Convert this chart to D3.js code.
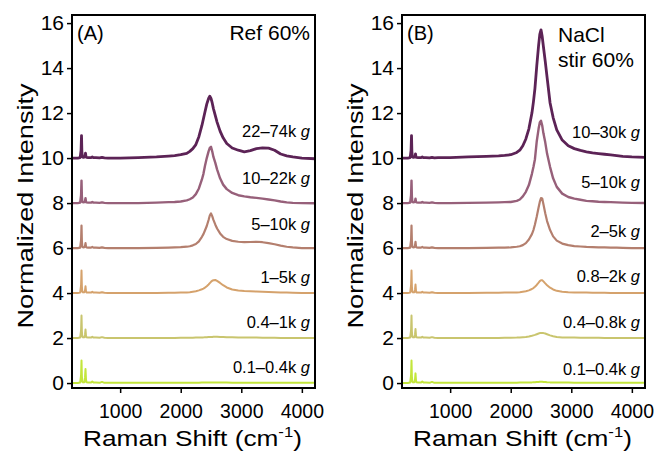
<!DOCTYPE html>
<html><head><meta charset="utf-8">
<script src="https://cdn.jsdelivr.net/npm/d3@7"></script>
<style>
html,body{margin:0;padding:0;background:#fff;}
svg{display:block;font-family:"Liberation Sans",Arial,Helvetica,sans-serif;}
</style></head>
<body><svg id="chart" width="656" height="453"></svg>
<script>
// ---------------- DATA ----------------
const wavenumber = [200,300,340,355,362,368,375,390,410,420,428,436,445,470,520,540,560,600,660,700,740,800,
  1000,1300,1600,1800,1900,2000,2100,2150,2200,2250,2300,2350,2375,2400,2430,2460,2480,2500,2520,2540,
  2570,2600,2650,2700,2760,2850,2950,3050,3150,3250,3350,3450,3550,3650,3750,3850,4000,4220];

// Panel A (Ref 60%) spectra, bottom to top
const refLabels = ["0.1\u20130.4k","0.4\u20131k","1\u20135k","5\u201310k","10\u201322k","22\u201374k"];
const ref_01_04 = [0,0,0.02,0.35,1.0,0.3,0.06,0.03,0.04,0.25,0.62,0.16,0.03,0.02,0.02,0.07,0.02,0.02,0.01,0.05,0.01,0.01,
  0.01,0.01,0.01,0.01,0.01,0.01,0.01,0.01,0.01,0.01, 0.01,0.02,0.02,0.02,0.02,0.02,0.02,0.02,0.02,0.02,
  0.02,0.02,0.02,0.02,0.02,0.01,0.01,0.01,0.01,0.01, 0.01,0.01,0.01,0.01,0.01,0.01,0.01,0.01];
const ref_04_1 = [2,2,2.02,2.35,3.0,2.3,2.06,2.03,2.04,2.15,2.38,2.1,2.03,2.02,2.02,2.06,2.02,2.02,2.01,2.04,2.01,2.0,
  2.0,2.0,2.0,2.0,2.0,2.01,2.01,2.01,2.01,2.02, 2.02,2.03,2.03,2.04,2.04,2.05,2.05,2.05,2.05,2.06,
  2.06,2.06,2.05,2.05,2.04,2.04,2.03,2.03,2.02,2.02, 2.01,2.01,2.01,2.0,2.0,2.0,2.0,2.0];
const ref_1_5 = [4,4,4.02,4.35,5.0,4.3,4.06,4.03,4.04,4.12,4.3,4.08,4.03,4.02,4.02,4.06,4.02,4.02,4.01,4.04,4.01,4.0,
  4.0,4.0,4.0,4.01,4.01,4.02,4.03,4.04,4.06,4.08, 4.12,4.17,4.2,4.24,4.3,4.38,4.44,4.5,4.55,4.57,
  4.58,4.54,4.45,4.35,4.25,4.16,4.11,4.09,4.08,4.07, 4.06,4.05,4.04,4.03,4.02,4.01,4.0,4.0];
const ref_5_10 = [6,6,6.02,6.35,7.0,6.3,6.06,6.03,6.04,6.09,6.22,6.06,6.03,6.02,6.02,6.05,6.02,6.02,6.01,6.03,6.01,6.0,
  6.0,6.0,6.01,6.02,6.03,6.04,6.06,6.08,6.12,6.18, 6.3,6.5,6.62,6.78,6.98,7.25,7.45,7.54,7.42,7.25,
  7.05,6.87,6.65,6.5,6.4,6.32,6.28,6.26,6.27,6.28, 6.26,6.22,6.17,6.11,6.06,6.03,6.0,6.0];
const ref_10_22 = [8,8,8.02,8.35,9.0,8.3,8.06,8.03,8.04,8.09,8.22,8.06,8.03,8.02,8.02,8.05,8.02,8.02,8.01,8.03,8.01,8.0,
  8.0,8.0,8.02,8.04,8.05,8.07,8.12,8.17,8.25,8.4, 8.65,9.05,9.3,9.65,10.0,10.3,10.45,10.5,10.3,10.05,
  9.8,9.5,9.1,8.82,8.62,8.45,8.35,8.3,8.26,8.23, 8.2,8.16,8.12,8.07,8.03,8.01,8.0,7.99];
const ref_22_74 = [10,10,10.02,10.35,11.0,10.3,10.06,10.03,10.04,10.09,10.22,10.06,10.03,10.02,10.02,10.05,10.02,10.02,10.01,10.03,10.01,10.0,
  10.0,10.02,10.05,10.09,10.11,10.15,10.21,10.3,10.42,10.6, 10.95,11.45,11.75,12.05,12.4,12.65,12.75,12.65,12.45,12.2,
  11.9,11.6,11.2,10.9,10.65,10.45,10.35,10.28,10.33,10.42, 10.45,10.44,10.35,10.18,10.1,10.05,10.0,9.97];

// Panel B (NaCl stir 60%) spectra, bottom to top
const naclLabels = ["0.1\u20130.4k","0.4\u20130.8k","0.8\u20132k","2\u20135k","5\u201310k","10\u201330k"];
const nacl_01_04 = [0,0,0.02,0.35,1.0,0.3,0.06,0.03,0.04,0.17,0.43,0.11,0.03,0.02,0.02,0.07,0.02,0.02,0.01,0.05,0.01,0.01,
  0.01,0.01,0.01,0.01,0.01,0.01,0.01,0.02,0.02,0.02, 0.03,0.03,0.04,0.04,0.05,0.05,0.06,0.06,0.06,0.05,
  0.05,0.04,0.03,0.03,0.02,0.02,0.02,0.01,0.01,0.01, 0.01,0.01,0.01,0.01,0.01,0.01,0.01,0.01];
const nacl_04_08 = [2,2,2.02,2.35,3.0,2.3,2.06,2.03,2.04,2.16,2.4,2.1,2.03,2.02,2.02,2.06,2.02,2.02,2.01,2.04,2.01,2.0,
  2.0,2.0,2.0,2.0,2.01,2.01,2.02,2.03,2.04,2.05, 2.07,2.1,2.12,2.14,2.17,2.2,2.22,2.23,2.23,2.22,
  2.2,2.17,2.12,2.08,2.05,2.03,2.02,2.02,2.01,2.01, 2.01,2.01,2.0,2.0,2.0,2.0,2.0,2.0];
const nacl_08_2 = [4,4,4.02,4.35,5.0,4.3,4.06,4.03,4.04,4.15,4.38,4.1,4.03,4.02,4.02,4.06,4.02,4.02,4.01,4.04,4.01,4.0,
  4.0,4.0,4.01,4.01,4.02,4.02,4.03,4.04,4.06,4.08, 4.12,4.18,4.22,4.28,4.36,4.46,4.53,4.57,4.57,4.52,
  4.43,4.35,4.24,4.16,4.1,4.06,4.04,4.03,4.02,4.02, 4.01,4.01,4.01,4.0,4.0,4.0,4.0,4.0];
const nacl_2_5 = [6,6,6.02,6.35,7.0,6.3,6.06,6.03,6.04,6.11,6.28,6.07,6.03,6.02,6.02,6.05,6.02,6.02,6.01,6.03,6.01,6.0,
  6.0,6.0,6.01,6.02,6.02,6.03,6.06,6.08,6.13,6.22, 6.38,6.62,6.8,7.05,7.4,7.8,8.05,8.22,8.2,7.95,
  7.55,7.2,6.8,6.52,6.33,6.2,6.13,6.09,6.07,6.05, 6.04,6.03,6.03,6.02,6.02,6.01,6.0,6.0];
const nacl_5_10 = [8,8,8.02,8.35,9.0,8.3,8.06,8.03,8.04,8.08,8.19,8.05,8.03,8.02,8.02,8.05,8.02,8.02,8.01,8.03,8.01,8.0,
  8.0,8.01,8.02,8.03,8.04,8.05,8.1,8.16,8.3,8.5, 8.8,9.3,9.6,9.95,10.75,11.3,11.58,11.66,11.45,11.1,
  10.7,10.2,9.6,9.1,8.72,8.42,8.27,8.2,8.15,8.1, 8.08,8.06,8.05,8.04,8.03,8.02,8.01,8.0];
const nacl_10_30 = [10,10,10.02,10.35,11.0,10.3,10.06,10.03,10.04,10.08,10.19,10.05,10.03,10.02,10.02,10.05,10.02,10.02,10.01,10.03,10.01,10.02,
  10.02,10.05,10.08,10.1,10.12,10.15,10.25,10.35,10.55,10.85, 11.3,12.0,12.5,13.1,14.1,15.0,15.5,15.7,15.4,14.95,
  14.3,13.6,12.45,11.8,11.25,10.8,10.55,10.42,10.34,10.28, 10.23,10.2,10.17,10.14,10.11,10.08,10.05,10.03];

const yTicks = [0,2,4,6,8,10,12,14,16];
const xTicks = [1000,2000,3000,4000];
// data-unit heights at which each series' label sits
const refLabelLevels  = [0.44,2.44,4.44,6.8,8.84,10.93];
const naclLabelLevels = [0.36,2.44,4.49,6.49,8.67,10.89];

// ---------------- STYLE / LAYOUT ----------------
const colors = ["#c3e63c","#c9c56e","#d5a26c","#b47f6e","#97607a","#5c2356"];
const widths = [2,2,2,2.2,2.4,2.8];
const FONT = '"Liberation Sans",Arial,Helvetica,sans-serif';
const plotW = 243, plotH = 373, plotTop = 15;

const panels = [
  {left:72, series:[ref_01_04,ref_04_1,ref_1_5,ref_5_10,ref_10_22,ref_22_74], labels:refLabels, levels:refLabelLevels,
   tag:"(A)", title:["Ref 60%"]},
  {left:402, series:[nacl_01_04,nacl_04_08,nacl_08_2,nacl_2_5,nacl_5_10,nacl_10_30], labels:naclLabels, levels:naclLabelLevels,
   tag:"(B)", title:["NaCl","stir 60%"]}
];

const svg = d3.select("#chart");
const defs = svg.append("defs");

panels.forEach((p, pi) => {
  const x = d3.scaleLinear().domain([205, 4217]).range([0, plotW]);
  const y = d3.scaleLinear().domain([-0.22, 16.36]).range([plotH, 0]);
  const g = svg.append("g").attr("transform", `translate(${p.left},${plotTop})`);

  defs.append("clipPath").attr("id", "clip" + pi)
    .append("rect").attr("x", 0).attr("y", 0).attr("width", plotW).attr("height", plotH);

  const line = d3.line().x((d, i) => x(wavenumber[i])).y(d => y(d));
  const lines = g.append("g").attr("clip-path", `url(#clip${pi})`);
  p.series.forEach((s, si) => {
    lines.append("path").attr("d", line(s)).attr("fill", "none")
      .attr("stroke", colors[si]).attr("stroke-width", widths[si])
      .attr("stroke-linejoin", "round").attr("stroke-linecap", "round");
  });

  // axes
  const ay = g.append("g").call(d3.axisLeft(y).tickValues(yTicks).tickSize(5).tickPadding(3));
  ay.select(".domain").remove();
  ay.selectAll(".tick line").attr("stroke", "#000").attr("stroke-width", 1.5);
  ay.selectAll(".tick text").attr("font-size", 21).attr("font-family", FONT).attr("fill", "#000");

  const ax = g.append("g").attr("transform", `translate(0,${plotH})`)
    .call(d3.axisBottom(x).tickValues(xTicks).tickFormat(d3.format("d")).tickSize(5).tickPadding(11));
  ax.select(".domain").remove();
  ax.selectAll(".tick line").attr("stroke", "#000").attr("stroke-width", 1.5);
  ax.selectAll(".tick text").attr("font-size", 19.5).attr("font-family", FONT).attr("fill", "#000");

  g.append("rect").attr("x", 0).attr("y", 0).attr("width", plotW).attr("height", plotH)
    .attr("fill", "none").attr("stroke", "#000").attr("stroke-width", 2);

  // series labels
  p.labels.forEach((lab, li) => {
    const t = g.append("text").attr("x", plotW - 5).attr("y", y(p.levels[li]))
      .attr("text-anchor", "end").attr("font-size", 16.5).attr("fill", "#000");
    t.append("tspan").text(lab + " ");
    t.append("tspan").attr("font-style", "italic").text("g");
  });

  // panel tag
  g.append("text").attr("x", 5).attr("y", 25).attr("font-size", 20).text(p.tag);
  if (p.title.length === 1) {
    g.append("text").attr("x", plotW - 5).attr("y", 25).attr("text-anchor", "end")
      .attr("font-size", 21).text(p.title[0]);
  } else {
    p.title.forEach((tt, ti) => {
      g.append("text").attr("x", 156).attr("y", 26.5 + ti * 25).attr("font-size", 21).text(tt);
    });
  }

  // axis titles (stretched horizontally to match the reference's extent)
  const yt = svg.append("g");
  const ytt = yt.append("text").attr("font-size", 22).attr("text-anchor", "middle").text("Normalized Intensity");
  const yw = ytt.node().getComputedTextLength();
  yt.attr("transform", `translate(${p.left - 39},206) rotate(-90) scale(${245 / yw},1)`);

  const xt = svg.append("g");
  const xtt = xt.append("text").attr("font-size", 22).attr("text-anchor", "middle");
  xtt.append("tspan").text("Raman Shift (cm");
  xtt.append("tspan").attr("font-size", 14).attr("dy", -9).text("-1");
  xtt.append("tspan").attr("dy", 9).text(")");
  const xw = xtt.node().getComputedTextLength();
  xt.attr("transform", `translate(${p.left + plotW / 2 - 1},446) scale(${219 / xw},1)`);
});
</script></body></html>
